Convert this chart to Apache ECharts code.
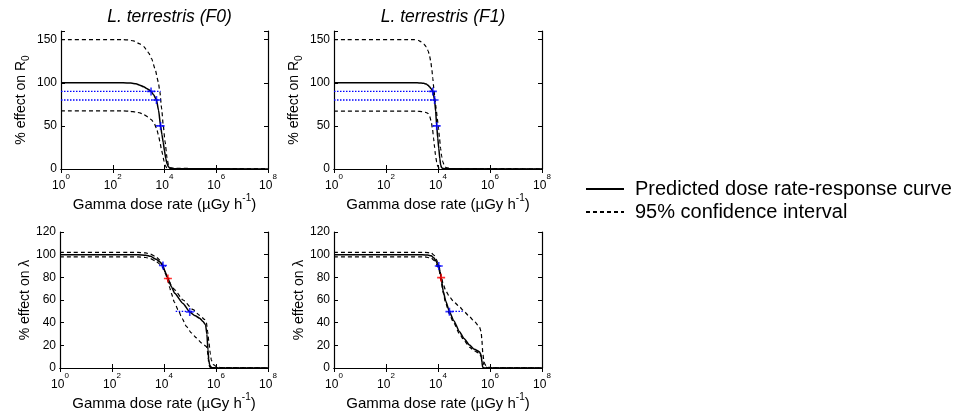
<!DOCTYPE html>
<html>
<head>
<meta charset="utf-8">
<script src="https://cdn.jsdelivr.net/npm/echarts@6/dist/echarts.min.js"></script>
<style>
html,body{margin:0;padding:0;background:#fff;}
#chart{width:957px;height:414px;}
</style>
</head>
<body>
<div id="chart"></div>
<script>
// ---------- DATA ----------
const panelTitles = ['L. terrestris (F0)', 'L. terrestris (F1)'];
const xTicks = [1, 1e2, 1e4, 1e6, 1e8];
const yTicksR0 = [0, 50, 100, 150];
const yTicksLambda = [0, 20, 40, 60, 80, 100, 120];
const legendNames = ['Predicted dose rate-response curve', '95% confidence interval'];

// Panel 1: F0, R0
const f0R0Fit = [[1,100],[251,100],[501,99.6],[794,98.8],[1122,97.2],[1585,95.3],[2042,93.4],[2512,91.8],[3020,90],[3802,86],[4898,80],[5888,68],[7079,50],[7943,40],[8913,31],[10000,21],[11220,12],[12589,6],[14125,2.5],[16218,1],[25119,0.3],[1e8,0]];
const f0R0Upper = [[1,150],[251,150],[398,149.6],[631,148.5],[1122,145],[1585,142],[2042,138],[2512,134],[3162,128],[4266,116.5],[5754,101],[6607,89.6],[7762,70],[8913,51],[10471,32],[12589,12.7],[14125,5],[16218,1.5],[25119,0.8],[1e5,0.6],[1e6,0.4],[1e8,0.2]];
const f0R0Lower = [[1,67.3],[251,67.3],[457,67],[794,66],[1122,65],[1514,63.4],[2239,60.5],[3162,57],[3981,53],[4898,47.3],[5754,40],[6607,32],[7586,23],[8511,16.5],[9550,9],[10471,4.6],[12023,1.5],[14125,0.5],[19953,0.1],[1e8,0]];
const f0R0CiLines = [[[1,90],[7079,90]], [[1,80],[7079,80]], [[4677,50],[9550,50]]];
const f0R0Markers = [[3020,90],[4898,80],[7079,50]];

// Panel 2: F1, R0
const f1R0Fit = [[1,100],[1585,100],[2239,99.7],[2818,99.3],[3548,98.5],[4169,97],[4677,95.4],[5495,93],[6310,90],[7413,80],[8128,67],[8913,50],[9772,36],[10715,24],[11749,12],[12589,5],[13804,1.5],[15849,0.5],[25119,0.2],[1e8,0]];
const f1R0Upper = [[1,150],[1259,150],[1778,149],[2239,147.5],[2818,145],[3548,141.5],[4169,137],[4677,132],[5248,125],[5754,116.5],[6310,105],[6918,93.4],[7586,82],[8511,70],[9333,59],[10471,47],[11482,35],[12589,24],[13804,15],[15136,9],[17378,4],[20417,1.5],[31623,0.6],[1e6,0.4],[1e8,0.2]];
const f1R0Lower = [[1,67],[1585,67],[2512,66.5],[3311,65.7],[4074,64.6],[4786,61],[5495,55],[6166,46],[6761,35.8],[7413,25],[7943,16.5],[8913,8],[9772,3],[11220,0.8],[15849,0.2],[1e8,0]];
const f1R0CiLines = [[[1,90],[8511,90]], [[1,80],[8511,80]], [[6310,50],[11482,50]]];
const f1R0Markers = [[6310,90],[7413,80],[8913,50]];

// Panel 3: F0, lambda
const f0LamFit = [[1,100],[1000,100],[1995,99.5],[3020,98.5],[5012,96],[7079,93.5],[9120,90],[11482,84],[14125,79],[19055,72],[25704,66],[53703,57],[97724,49.4],[158489,46],[234423,44],[316228,41],[398107,38],[446684,30],[489779,16],[524807,8],[562341,3],[630957,1],[707946,0.3],[1e6,0],[1e8,0]];
const f0LamUpper = [[1,102],[1000,102],[1995,101.5],[3020,100.5],[5012,98],[7079,95],[9120,91],[10965,85],[14125,79.5],[19055,73],[25704,69],[53703,60],[131826,51.5],[234423,46.5],[371535,42.6],[426580,40],[478630,32],[537032,22],[602560,13],[660693,7],[794328,3],[1047129,1.2],[1584893,0.3],[1e8,0]];
const f0LamLower = [[1,98],[1000,98],[1995,97.5],[3020,96.5],[5012,94],[7079,91.5],[9120,88.5],[11482,83],[14125,77],[16596,71],[19055,66],[25119,58],[34674,51.5],[50119,43.5],[72444,36.7],[112202,31],[177828,26.5],[281838,22],[426580,19],[467735,15],[501187,8],[537032,3],[575440,0.8],[707946,0.2],[1e8,0]];
const f0LamBlueBars = [[[8000,90],[12300,90]], [[28184,50],[151356,50]]];
const f0LamRedBars = [[[12000,79],[16600,79]]];
const f0LamBlueMarkers = [[9120,90.5],[97724,49.4]];
const f0LamRedMarkers = [[14125,79]];

// Panel 4: F1, lambda
const f1LamFit = [[1,100],[2512,100],[3981,99.6],[5495,99],[7079,97],[8511,94],[9550,92],[10715,90],[12023,85],[13183,79.7],[15849,68],[19953,59],[27542,49.7],[39811,42],[67608,32],[100000,26],[162181,20.3],[251189,16.5],[389045,14.4],[457088,11.5],[489779,5],[524807,0.5],[630957,0.1],[1e8,0]];
const f1LamUpper = [[1,102],[3162,102],[5495,101.5],[7079,99.5],[8511,96],[10715,90.5],[13183,81],[15849,74],[19953,68],[27542,63],[39811,58.5],[67608,54],[100000,50],[162181,45.3],[251189,41],[389045,36.5],[457088,32],[489779,24],[524807,14],[575440,7],[616595,4],[707946,1.8],[954993,0.6],[1258925,0.2],[1e8,0]];
const f1LamLower = [[1,98],[3162,98],[5495,97],[7079,95],[8511,92],[10715,87.5],[13183,77],[15849,66],[19953,57],[27542,47.5],[39811,40],[67608,30],[100000,24.5],[162181,18.5],[251189,15],[389045,13],[457088,10],[524807,6],[575440,3],[630957,1.5],[794328,0.2],[1e8,0]];
const f1LamBlueBars = [[[8500,90],[12600,90]], [[27542,50],[89125,50]]];
const f1LamRedBars = [[[11500,79.7],[15000,79.7]]];
const f1LamBlueMarkers = [[10715,90],[27542,49.7]];
const f1LamRedMarkers = [[13183,79.7]];

// ---------- CHART ----------
const FONT = '"Liberation Sans", Arial, sans-serif';
const grids = [
  {left: 61, top: 31, width: 207, height: 138},
  {left: 334, top: 31, width: 208, height: 138},
  {left: 60, top: 232, width: 208, height: 136},
  {left: 334, top: 232, width: 208, height: 136}
];
const PLUS = 'path://M4,0H6V4H10V6H6V10H4V6H0V4H4Z';

const xTickLabel = v => {
  const e = Math.round(Math.log10(v));
  if (!xTicks.some(t => Math.abs(Math.log10(t) - e) < 1e-6)) return '';
  return '{b|10}{s|' + e + '}';
};
const tickRich = {
  b: {fontSize: 12, lineHeight: 26, fontFamily: FONT, color: '#000'},
  s: {fontSize: 8, lineHeight: 8, verticalAlign: 'top', fontFamily: FONT, color: '#000'}
};
const xNameRich = {
  n: {fontSize: 15, lineHeight: 24, fontFamily: FONT, color: '#000'},
  s: {fontSize: 10, lineHeight: 10, verticalAlign: 'top', fontFamily: FONT, color: '#000'}
};
const yNameRich = {
  n: {fontSize: 14, lineHeight: 20, fontFamily: FONT, color: '#000'},
  sub: {fontSize: 10, lineHeight: 10, verticalAlign: 'bottom', fontFamily: FONT, color: '#000'}
};

const xAxes = [], yAxes = [];
for (let i = 0; i < 4; i++) {
  xAxes.push({
    type: 'log', logBase: 10, min: 1, max: 1e8, interval: 2, gridIndex: i, position: 'bottom',
    axisLine: {lineStyle: {color: '#000', width: 1.2}},
    axisTick: {inside: true, length: 4, lineStyle: {color: '#000'}},
    axisLabel: {formatter: xTickLabel, rich: tickRich, margin: 4, color: '#000'},
    minorTick: {show: false}, splitLine: {show: false},
    name: '{n|Gamma dose rate (µGy h}{s|-1}{n|)}', nameLocation: 'middle', nameGap: i < 2 ? 11 : 14,
    nameTextStyle: {rich: xNameRich}
  });
}
for (let i = 0; i < 4; i++) {
  xAxes.push({
    type: 'log', logBase: 10, min: 1, max: 1e8, interval: 2, gridIndex: i, position: 'top',
    axisLine: {lineStyle: {color: '#000', width: 1.2}},
    axisTick: {inside: true, length: 4, lineStyle: {color: '#000'}},
    axisLabel: {show: false}, splitLine: {show: false}
  });
}
for (let i = 0; i < 4; i++) {
  const top = i < 2;
  const ticks = top ? yTicksR0 : yTicksLambda;
  yAxes.push({
    type: 'value', gridIndex: i, position: 'left', min: 0, max: top ? 160 : 120, interval: top ? 50 : 20,
    axisLine: {show: true, lineStyle: {color: '#000', width: 1.2}},
    axisTick: {show: true, inside: true, length: 4, lineStyle: {color: '#000'}},
    axisLabel: {formatter: v => ticks.includes(v) ? String(v) : '', fontSize: 12, fontFamily: FONT, color: '#000', margin: 4},
    splitLine: {show: false},
    name: top ? '{n|% effect on R}{sub|0}' : '{n|% effect on λ}', nameLocation: 'middle', nameGap: top ? 30 : 25,
    nameRotate: 90, nameTextStyle: {rich: yNameRich}
  });
}
for (let i = 0; i < 4; i++) {
  const top = i < 2;
  yAxes.push({
    type: 'value', gridIndex: i, position: 'right', min: 0, max: top ? 160 : 120, interval: top ? 50 : 20,
    axisLine: {show: true, lineStyle: {color: '#000', width: 1.2}},
    axisTick: {show: true, inside: true, length: 4, lineStyle: {color: '#000'}},
    axisLabel: {show: false}, splitLine: {show: false}
  });
}

const series = [];
function curve(name, data, idx, dashed) {
  series.push({
    name, type: 'line', data, xAxisIndex: idx, yAxisIndex: idx, symbol: 'none',
    smooth: 0.2, smoothMonotone: 'x', silent: true, z: 3,
    itemStyle: {color: '#000'},
    lineStyle: {color: '#000', width: dashed ? 1.2 : 1.5, type: dashed ? [4, 3] : 'solid'}
  });
}
function bars(list, idx, color) {
  list.forEach(d => series.push({
    name: 'ci', type: 'line', data: d, xAxisIndex: idx, yAxisIndex: idx, symbol: 'none', silent: true, z: 4,
    lineStyle: {color, width: 1.4, type: [1.5, 1.5]}
  }));
}
function marks(data, idx, color) {
  series.push({
    name: 'mk', type: 'scatter', data, xAxisIndex: idx, yAxisIndex: idx, symbol: PLUS, symbolSize: 8, silent: true, z: 5,
    itemStyle: {color}
  });
}
const panels = [
  {fit: f0R0Fit, up: f0R0Upper, lo: f0R0Lower, blueBars: f0R0CiLines, blueMk: f0R0Markers, redBars: [], redMk: []},
  {fit: f1R0Fit, up: f1R0Upper, lo: f1R0Lower, blueBars: f1R0CiLines, blueMk: f1R0Markers, redBars: [], redMk: []},
  {fit: f0LamFit, up: f0LamUpper, lo: f0LamLower, blueBars: f0LamBlueBars, blueMk: f0LamBlueMarkers, redBars: f0LamRedBars, redMk: f0LamRedMarkers},
  {fit: f1LamFit, up: f1LamUpper, lo: f1LamLower, blueBars: f1LamBlueBars, blueMk: f1LamBlueMarkers, redBars: f1LamRedBars, redMk: f1LamRedMarkers}
];
panels.forEach((p, i) => {
  curve(legendNames[1], p.up, i, true);
  curve(legendNames[1], p.lo, i, true);
  curve(legendNames[0], p.fit, i, false);
  bars(p.blueBars, i, '#0000ff');
  bars(p.redBars, i, '#ff0000');
  marks(p.blueMk, i, '#0000ff');
  if (p.redMk.length) marks(p.redMk, i, '#ff0000');
});

const option = {
  animation: false,
  backgroundColor: '#fff',
  textStyle: {fontFamily: FONT},
  title: panelTitles.map((t, i) => ({
    text: t, left: grids[i].left + grids[i].width / 2, top: 3, textAlign: 'center',
    textStyle: {fontSize: 17.5, fontWeight: 'normal', fontStyle: 'italic', color: '#000', fontFamily: FONT}
  })),
  legend: {
    data: legendNames, orient: 'vertical', left: 580, top: 174, itemWidth: 38, itemHeight: 14, itemGap: 3,
    itemStyle: {opacity: 0, color: 'rgba(0,0,0,0)', borderWidth: 0},
    textStyle: {fontSize: 20, color: '#000', fontFamily: FONT, padding: [0, 0, 0, 6]},
    selectedMode: false
  },
  grid: grids,
  xAxis: xAxes,
  yAxis: yAxes,
  series
};
const chart = echarts.init(document.getElementById('chart'), null, {renderer: 'canvas'});
chart.setOption(option);
</script>
</body>
</html>
